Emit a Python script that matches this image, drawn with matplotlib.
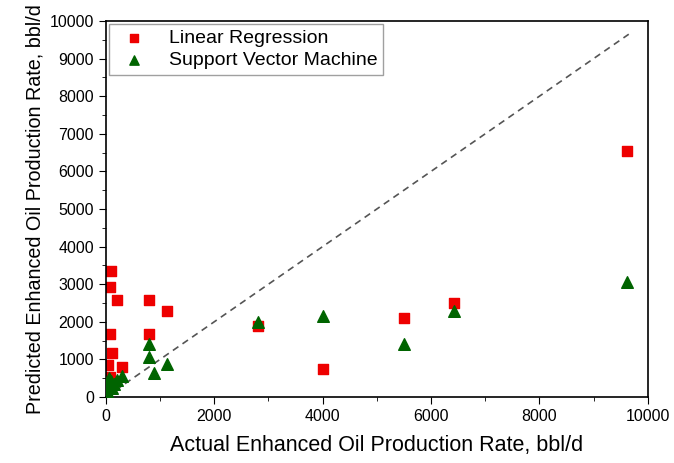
import numpy as np
from matplotlib import pyplot as plt
from matplotlib.ticker import MultipleLocator

plt.rcParams['font.family'] = ['Liberation Sans', 'DejaVu Sans']

# Linear regression: actual vs predicted
lr_actual = [9623, 6420, 5498, 4003, 2800, 1125, 793, 793, 200, 90, 74, 74, 110, 37, 295, 74]
lr_pred = [6550, 2500, 2101, 745, 1890, 2287, 2580, 1676, 2580, 3350, 2926, 1676, 1170, 851, 798, 532]

# Support vector machine: actual vs predicted
svm_actual = [9623, 6420, 5498, 4003, 2800, 1125, 885, 793, 793, 295, 200, 55, 40, 110, 30, 60, 150, 90]
svm_pred = [3060, 2290, 1410, 2150, 1995, 880, 640, 1410, 1064, 560, 450, 500, 370, 250, 150, 300, 350, 420]

fig = plt.figure(figsize=(6.74, 4.63), dpi=100)
ax = fig.add_axes([0.157, 0.1425, 0.804, 0.812])

ax.plot([0, 9650], [0, 9650], ls=(0, (4, 3)), color='#555555', lw=1.2, zorder=1)
ax.scatter(lr_actual, lr_pred, marker='s', s=45, color='#ee0000', label='Linear Regression', zorder=2)
ax.scatter(svm_actual, svm_pred, marker='^', s=70, color='#006400', label='Support Vector Machine', zorder=3)

ax.set_xlim(0, 10000)
ax.set_ylim(0, 10000)
ax.xaxis.set_major_locator(MultipleLocator(2000))
ax.xaxis.set_minor_locator(MultipleLocator(1000))
ax.yaxis.set_major_locator(MultipleLocator(1000))
ax.yaxis.set_minor_locator(MultipleLocator(500))
ax.tick_params(which='major', direction='out', length=5, labelsize=11.5)
ax.tick_params(which='minor', direction='out', length=3)
for s in ax.spines.values():
    s.set_linewidth(1.2)

ax.set_xlabel('Actual Enhanced Oil Production Rate, bbl/d', size=15.5, labelpad=8)
ax.set_ylabel('Predicted Enhanced Oil Production Rate, bbl/d', size=14.2, labelpad=4)

leg = ax.legend(loc='upper left', fontsize=14, frameon=True, fancybox=False,
                edgecolor='#888888', borderaxespad=0.15, handletextpad=0.8,
                borderpad=0.3, labelspacing=0.2, scatterpoints=1, markerscale=0.8)
leg.get_frame().set_linewidth(1.0)

fig.savefig('out.png', dpi=100)
